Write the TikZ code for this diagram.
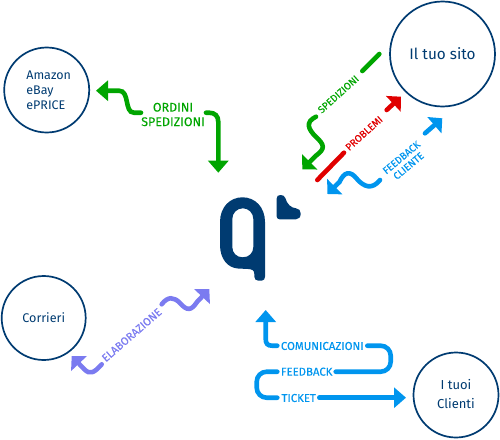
\documentclass[tikz,border=0pt]{standalone}
\usepackage{fontspec}
\setmainfont{Fira Sans}
\newfontfamily\labfont[FakeBold=0.2]{Fira Sans}
\usetikzlibrary{arrows.meta}
\definecolor{navy}{HTML}{003B71}
\definecolor{ggreen}{HTML}{00A500}
\definecolor{rred}{HTML}{E00000}
\definecolor{bblue}{HTML}{0095EE}
\definecolor{vviolet}{HTML}{7B7BF0}
\tikzset{
  site/.style={circle,draw=navy,line width=1.7pt,inner sep=0pt,minimum size=#1,text=navy,align=center},
  flow/.style={line width=4.6pt,line cap=round,-{Triangle[length=12pt,width=20pt]}},
  flowdiag/.style={line width=4.6pt,line cap=round,-{Triangle[length=10.5pt,width=21pt]}},
  bar/.style={line width=4.6pt,line cap=round},
  lab/.style={font=\labfont\fontsize{#1}{#1}\selectfont,inner sep=0pt,align=center},
  lab/.default=11pt
}
\begin{document}
\begin{tikzpicture}[x=1pt,y=-1pt]
\useasboundingbox (0,0) rectangle (500,439);
% sites
\node[site=105pt,font=\fontsize{15.3pt}{18pt}\selectfont] (sito) at (442.5,54) {Il tuo sito};
\node[site=85pt,align=left,font=\fontsize{12.5pt}{15pt}\selectfont] (amazon) at (46.7,90) {\hspace*{4pt}Amazon\\\hspace*{4pt}eBay\\\hspace*{4pt}ePRICE};
\node[site=84pt,font=\fontsize{12.6pt}{15pt}\selectfont] (corrieri) at (43.7,318) {Corrieri};
\node[site=85pt,font=\fontsize{13pt}{18.5pt}\selectfont] (clienti) at (456,395) {\raisebox{2pt}{I tuoi}\\\raisebox{2pt}{Clienti}};
% logo
\fill[navy,even odd rule] (265,276.7) -- (265,222) .. controls (265,207) and (255,197.3) .. (242.5,197.3)
  .. controls (230,197.3) and (220,207) .. (220,222) -- (220,245)
  .. controls (220,259) and (228,268) .. (238,268.5) -- (248,269)
  .. controls (252,269.3) and (254.3,270) .. (254.3,274) -- (254.3,276.7)
  .. controls (254.3,279) and (256,280.7) .. (258.3,280.7) -- (261.7,280.7)
  .. controls (263.7,280.7) and (265,279) .. (265,276.7) -- cycle
  (232.3,219) .. controls (232.3,213) and (237,208.3) .. (242.8,208.3)
  .. controls (248.6,208.3) and (253.3,213) .. (253.3,219) -- (253.3,247)
  .. controls (253.3,253) and (249,257.3) .. (242.8,257.3)
  .. controls (236.6,257.3) and (232.3,253) .. (232.3,247) -- cycle;
\fill[navy] (276.7,198.5) .. controls (276.7,196) and (278,195) .. (280.5,195)
  .. controls (283,195) and (284.5,196) .. (285.3,198)
  .. controls (287,204) and (291,208) .. (296,208.3)
  .. controls (299,208.6) and (300.7,210.5) .. (300.7,213.5)
  .. controls (300.7,217) and (299,219.3) .. (296,219.3) -- (279.5,219.3)
  .. controls (277.7,219.3) and (276.7,218) .. (276.7,216.5) -- cycle;
% ordini / spedizioni
\coordinate (a1) at (141,112.7); \coordinate (a2) at (96,90.7);
\coordinate (a3) at (206,112.7); \coordinate (a4) at (218.3,172.7);
\draw[flow,ggreen] (a1) -- (134,112.7) .. controls (124,112.7) and (130,90.7) .. (119,90.7) -- (a2);
\draw[flow,ggreen] (a3) -- (209,112.7) .. controls (215,112.7) and (218.3,116) .. (218.3,122) -- (a4);
\node[lab=12.5pt,text=ggreen] (ordini) at (173,114.5) {ORDINI\\[2pt]SPEDIZIONI};
% sito arrows
\coordinate (b1) at (379.3,54); \coordinate (b2) at (362.3,71);
\coordinate (b3) at (316,116.7); \coordinate (b4) at (302.3,169.3);
\draw[bar,ggreen] (b1) -- (b2);
\draw[flowdiag,ggreen] (b3) .. controls (305,122) and (308,129) .. (316,137)
  .. controls (325,145) and (325,149) .. (316,155.6) -- (b4);
\node[lab=10pt,text=ggreen,rotate=42] (sped) at (338.3,94.3) {SPEDIZIONI};
\coordinate (c1) at (317.3,180); \coordinate (c2) at (344,152.7);
\coordinate (c3) at (386.7,110); \coordinate (c4) at (401,96.7);
\draw[bar,rred] (c1) -- (c2);
\draw[flowdiag,rred] (c3) -- (c4);
\node[lab=10pt,text=rred,rotate=42] (prob) at (364,133.3) {PROBLEMI};
\coordinate (d1) at (380,180); \coordinate (d2) at (327.3,194);
\coordinate (d3) at (425,133.3); \coordinate (d4) at (442.3,118.3);
\draw[flowdiag,bblue] (d1) .. controls (372,190) and (364,187) .. (357,179)
  .. controls (350,170) and (344,172) .. (339.5,182) -- (d2);
\draw[flowdiag,bblue] (d3) -- (d4);
\node[lab=10pt,text=bblue,rotate=40] (fbc) at (405,161.7) {FEEDBACK\\[1pt]CLIENTE};
% elaborazione
\coordinate (e1) at (161.7,304.3); \coordinate (e2) at (209.3,289);
\coordinate (e3) at (101.7,364.3); \coordinate (e4) at (71.7,356);
\draw[flowdiag,vviolet] (e1) .. controls (168,296) and (174,297) .. (180,303)
  .. controls (187,311) and (191,311) .. (197,302) -- (e2);
\draw[flowdiag,vviolet] (e3) .. controls (94,373) and (90,375) .. (84,369) -- (e4);
\node[lab=11pt,text=vviolet,rotate=41] (elab) at (131.7,335) {ELABORAZIONE};
% clienti
\coordinate (f1) at (277.3,345.7); \coordinate (f2) at (265.7,310);
\coordinate (f3) at (367.3,345.7); \coordinate (f4) at (335.7,371.7);
\coordinate (f5) at (277.3,371.7); \coordinate (f6) at (277.3,397.7);
\coordinate (f7) at (319.3,397.7); \coordinate (f8) at (406,397.7);
\draw[flow,bblue] (f1) -- (272,345.7) .. controls (267.5,345.7) and (265.7,343.5) .. (265.7,339) -- (f2);
\draw[bar,bblue,rounded corners=10pt] (f3) -- (390.7,345.7) -- (390.7,371.7) -- (f4);
\draw[bar,bblue,rounded corners=10pt] (f5) -- (256.7,371.7) -- (256.7,397.7) -- (f6);
\draw[flow,bblue] (f7) -- (f8);
\node[lab=11.4pt,text=bblue] (com) at (322.3,346) {COMUNICAZIONI};
\node[lab=11.4pt,text=bblue] (fb) at (306.7,371.7) {FEEDBACK};
\node[lab=11.4pt,text=bblue] (tk) at (298.7,398) {TICKET};
\end{tikzpicture}
\end{document}
